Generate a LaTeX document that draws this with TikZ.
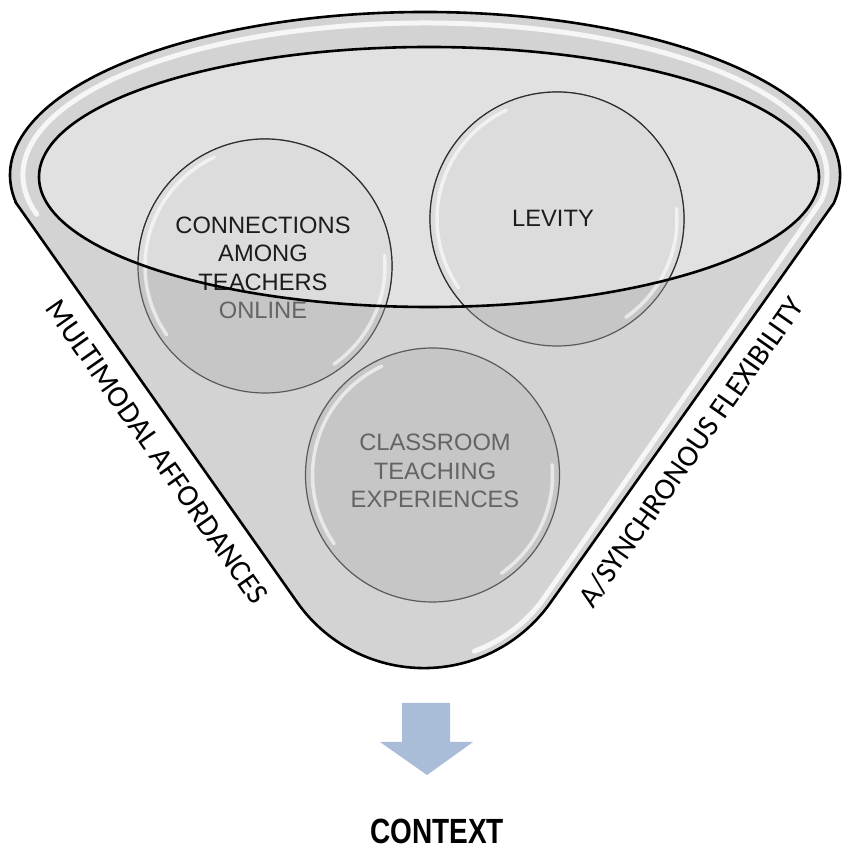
\documentclass[tikz,border=0pt]{standalone}
\usepackage{fontspec}
\setmainfont{Liberation Sans}
\newfontfamily\sidefont{Carlito}
\definecolor{bodycol}{HTML}{D3D3D3}
\definecolor{opencol}{HTML}{E1E1E1}
\definecolor{circlight}{HTML}{DCDCDC}
\definecolor{circdark}{HTML}{C6C6C6}
\definecolor{circedge}{HTML}{5A5A5A}
\definecolor{circedgedark}{HTML}{2E2E2E}
\definecolor{inktext}{HTML}{1C1C1C}
\definecolor{inkgray}{HTML}{646464}
\definecolor{arrowblue}{HTML}{A9BCD8}
\begin{document}
\begin{tikzpicture}[x=1pt,y=1pt,
  bubble/.style={circle, minimum size=254pt, inner sep=0pt, fill=circdark, draw=circedge, line width=1.2pt},
  bubbletext/.style={align=center, font=\fontsize{23.7}{28.5}\selectfont, text=inktext},
  sidelabel/.style={font=\sidefont\fontsize{30.5}{36}\selectfont, text=black},
  rimglow/.style={white, line width=5pt, opacity=.8, line cap=round},
  bubglow/.style={white, line width=3.5pt, opacity=.6, line cap=round},
  outline/.style={black, line width=2.6pt},
]
\useasboundingbox (0,0) rectangle (841,848);

% funnel: elliptical mouth on top, straight sides, rounded bottom
\def\funnelpath{(16.3,644.7) -- (297,246) arc[start angle=215,end angle=325,radius=155]
  -- (833.7,644.7) arc[start angle=-10,end angle=190,x radius=415,y radius=163] -- cycle}
\def\mouthpath{(429,671) ellipse[x radius=390,y radius=130]}

\fill[bodycol] \funnelpath;
\fill[opencol] \mouthpath;

% the three bubbles
\node[bubble] (conn) at (265,582) {};
\node[bubble] (levity) at (557,629) {};
\node[bubble] (class) at (432.5,373) {};

% lighter where they sit inside the mouth
\begin{scope}
  \clip \mouthpath;
  \foreach \n in {conn,levity,class}
    \filldraw[fill=circlight, draw=circedgedark, line width=1.2pt] (\n.center) circle[radius=127];
\end{scope}

% glossy rims of the bubbles
\foreach \n in {conn,levity,class}{
  \draw[bubglow] ([shift={(115:120)}]\n.center) arc[start angle=115,end angle=215,radius=120];
  \draw[bubglow] ([shift={(-55:120)}]\n.center) arc[start angle=-55,end angle=5,radius=120];
}

% highlight along the rim and the right side
\begin{scope}
  \clip \funnelpath;
  \draw[rimglow] ([shift={(195:402 and 152)}]425,673) arc[start angle=195,end angle=-10,x radius=402,y radius=152]
    -- (544.5,250.6) arc[start angle=325,end angle=290,radius=147];
\end{scope}

% bubble texts
\node[bubbletext] (conntext) at (263,580) {CONNECTIONS\\AMONG\\TEACHERS\\\textcolor{inkgray}{ONLINE}};
\node[bubbletext] (levitytext) at (553,630) {LEVITY};
\node[bubbletext, text=inkgray] (classtext) at (435,377) {CLASSROOM\\TEACHING\\EXPERIENCES};

% outlines
\draw[outline] \mouthpath;
\draw[outline] \funnelpath;

% side labels
\node[sidelabel, rotate=-55] (multi) at (157,396) {MULTIMODAL AFFORDANCES};
\node[sidelabel, rotate=55] (async) at (691,396) {A/SYNCHRONOUS FLEXIBILITY};

% downward arrow and result
\fill[arrowblue] (402,145) -- (450,145) -- (450,106) -- (473,106) -- (427,73) -- (380,106) -- (402,106) -- cycle;
\node[font=\bfseries\fontsize{35}{40}\selectfont, xscale=.8, anchor=base, text=black] (context) at (437,5) {CONTEXT};
\end{tikzpicture}
\end{document}
